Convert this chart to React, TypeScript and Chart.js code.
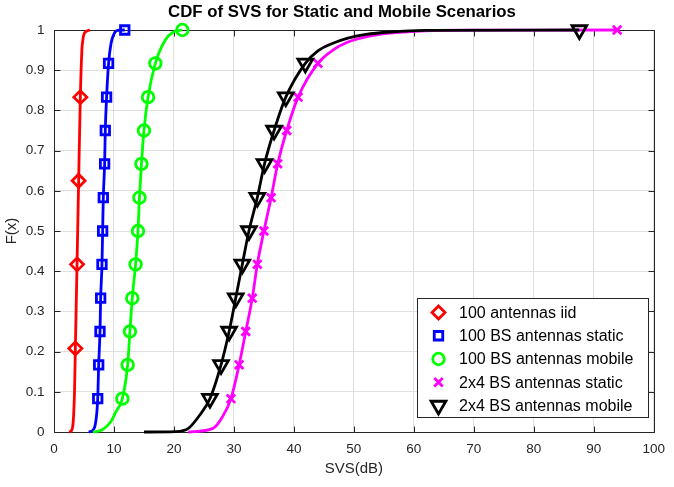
import React, { useEffect, useRef } from 'react';
import { Chart, registerables } from 'chart.js';
import { drawPoint } from 'chart.js/helpers';

Chart.register(...registerables);

const TITLE = 'CDF of SVS for Static and Mobile Scenarios';
const X_LABEL = 'SVS(dB)';
const Y_LABEL = 'F(x)';
const X_MIN = 0;
const X_MAX = 100;
const X_STEP = 10;
const Y_MIN = 0;
const Y_MAX = 1;
const Y_STEP = 0.1;

const SERIES_LABELS = [
  '100 antennas iid',
  '100 BS antennas static',
  '100 BS antennas mobile',
  '2x4 BS antennas static',
  '2x4 BS antennas mobile',
];

// 100 antennas iid (red)
const iidLineX = [2.5, 2.9, 3.15, 3.3, 3.42, 3.56, 3.84, 4.11, 4.39, 4.65, 4.8, 5.1, 6.0];
const iidLineY = [0, 0.003, 0.017, 0.05, 0.1, 0.208, 0.417, 0.625, 0.833, 0.95, 0.974, 0.993, 1];
const iidMarkX = [3.56, 3.84, 4.11, 4.39];
const iidMarkY = [0.208, 0.417, 0.625, 0.833];

// 100 BS antennas static (blue)
const bsStaticLineX = [5.8, 6.5, 6.9, 7.29, 7.45, 7.67, 7.78, 8.0, 8.11, 8.22, 8.44, 8.55, 8.77, 9.1, 9.5, 10.0, 10.6, 11.8];
const bsStaticLineY = [0, 0.005, 0.02, 0.083, 0.167, 0.25, 0.333, 0.417, 0.5, 0.583, 0.667, 0.75, 0.833, 0.917, 0.966, 0.99, 0.999, 1];
const bsStaticMarkX = [7.29, 7.45, 7.67, 7.78, 8.0, 8.11, 8.22, 8.44, 8.55, 8.77, 9.1, 11.8];
const bsStaticMarkY = [0.083, 0.167, 0.25, 0.333, 0.417, 0.5, 0.583, 0.667, 0.75, 0.833, 0.917, 1];

// 100 BS antennas mobile (green)
const bsMobileLineX = [6.5, 8.0, 9.5, 10.3, 11.4, 12.28, 12.66, 13.05, 13.6, 14.0, 14.25, 14.58, 15.0, 15.68, 16.9, 18.5, 19.9, 21.4];
const bsMobileLineY = [0, 0.005, 0.026, 0.05, 0.083, 0.167, 0.25, 0.333, 0.417, 0.5, 0.583, 0.667, 0.75, 0.833, 0.917, 0.974, 0.995, 1];
const bsMobileMarkX = [11.4, 12.28, 12.66, 13.05, 13.6, 14.0, 14.25, 14.58, 15.0, 15.68, 16.9, 21.4];
const bsMobileMarkY = [0.083, 0.167, 0.25, 0.333, 0.417, 0.5, 0.583, 0.667, 0.75, 0.833, 0.917, 1];

// 2x4 BS antennas static (magenta)
const smallStaticLineX = [22.4, 26.5, 28.1, 29.5, 30.87, 31.97, 33.06, 33.9, 35.0, 36.2, 37.3, 38.8, 40.7, 44.0, 46.5, 49.0, 52.0, 56.0, 61.0, 70.0, 93.9];
const smallStaticLineY = [0, 0.009, 0.038, 0.083, 0.167, 0.25, 0.333, 0.417, 0.5, 0.583, 0.667, 0.75, 0.833, 0.917, 0.95, 0.97, 0.983, 0.992, 0.997, 0.9995, 1];
const smallStaticMarkX = [29.5, 30.87, 31.97, 33.06, 33.9, 35.0, 36.2, 37.3, 38.8, 40.7, 44.0, 93.9];
const smallStaticMarkY = [0.083, 0.167, 0.25, 0.333, 0.417, 0.5, 0.583, 0.667, 0.75, 0.833, 0.917, 1];

// 2x4 BS antennas mobile (black)
const smallMobileLineX = [15.0, 20.2, 22.4, 24.3, 26.0, 27.85, 29.2, 30.3, 31.4, 32.5, 33.9, 35.1, 36.7, 38.65, 41.9, 44.0, 46.5, 49.0, 52.0, 56.0, 62.0, 87.6];
const smallMobileLineY = [0, 0.001, 0.009, 0.042, 0.083, 0.167, 0.25, 0.333, 0.417, 0.5, 0.583, 0.667, 0.75, 0.833, 0.917, 0.948, 0.967, 0.98, 0.989, 0.995, 0.999, 1];
const smallMobileMarkX = [26.0, 27.85, 29.2, 30.3, 31.4, 32.5, 33.9, 35.1, 36.7, 38.65, 41.9, 87.6];
const smallMobileMarkY = [0.083, 0.167, 0.25, 0.333, 0.417, 0.5, 0.583, 0.667, 0.75, 0.833, 0.917, 1];

const FONT = "'Liberation Sans', Arial, Helvetica, sans-serif";
const AXIS_COLOR = '#262626';
const LINE_W = 2.8;

const pts = (xs: number[], ys: number[]) => xs.map((x, i) => ({ x, y: ys[i] }));

type SeriesDef = {
  label: string;
  color: string;
  lineX: number[];
  lineY: number[];
  markX: number[];
  markY: number[];
  pointStyle: string;
  radius: number;
  rotation: number;
  order: number;
};

const SERIES: SeriesDef[] = [
  { label: SERIES_LABELS[0], color: '#ff0000', lineX: iidLineX, lineY: iidLineY, markX: iidMarkX, markY: iidMarkY, pointStyle: 'rectRot', radius: 6.5, rotation: 0, order: 50 },
  { label: SERIES_LABELS[1], color: '#0000ff', lineX: bsStaticLineX, lineY: bsStaticLineY, markX: bsStaticMarkX, markY: bsStaticMarkY, pointStyle: 'rect', radius: 6, rotation: 0, order: 40 },
  { label: SERIES_LABELS[2], color: '#00ff00', lineX: bsMobileLineX, lineY: bsMobileLineY, markX: bsMobileMarkX, markY: bsMobileMarkY, pointStyle: 'circle', radius: 5.8, rotation: 0, order: 30 },
  { label: SERIES_LABELS[3], color: '#ff00ff', lineX: smallStaticLineX, lineY: smallStaticLineY, markX: smallStaticMarkX, markY: smallStaticMarkY, pointStyle: 'crossRot', radius: 6, rotation: 0, order: 20 },
  { label: SERIES_LABELS[4], color: '#000000', lineX: smallMobileLineX, lineY: smallMobileLineY, markX: smallMobileMarkX, markY: smallMobileMarkY, pointStyle: 'triangle', radius: 8.5, rotation: 180, order: 10 },
];

const decorPlugin = {
  id: 'decor',
  beforeDatasetsDraw(chart: any) {
    const { ctx, chartArea: a, scales } = chart;
    const al = (v: number) => Math.round(v) + 0.5;
    ctx.save();
    ctx.strokeStyle = AXIS_COLOR;
    ctx.lineWidth = 1;
    const L = al(a.left), R = al(a.right), T = al(a.top), B = al(a.bottom);
    ctx.beginPath();
    ctx.rect(L, T, R - L, B - T);
    const tl = 6;
    scales.x.ticks.forEach((t: any) => {
      const px = al(scales.x.getPixelForValue(t.value));
      ctx.moveTo(px, B); ctx.lineTo(px, B - tl);
      ctx.moveTo(px, T); ctx.lineTo(px, T + tl);
    });
    scales.y.ticks.forEach((t: any) => {
      const py = al(scales.y.getPixelForValue(t.value));
      ctx.moveTo(L, py); ctx.lineTo(L + tl, py);
      ctx.moveTo(R, py); ctx.lineTo(R - tl, py);
    });
    ctx.stroke();
    ctx.restore();
  },
  afterDraw(chart: any) {
    const { ctx, chartArea: a } = chart;
    ctx.save();
    // title
    ctx.fillStyle = '#000000';
    ctx.font = `bold 16.8px ${FONT}`;
    ctx.textAlign = 'center';
    ctx.textBaseline = 'alphabetic';
    ctx.fillText(TITLE, 342, 17);
    // x label
    ctx.fillStyle = AXIS_COLOR;
    ctx.font = `15px ${FONT}`;
    ctx.fillText(X_LABEL, (a.left + a.right) / 2, 473);
    // y label
    ctx.save();
    ctx.translate(12, (a.top + a.bottom) / 2);
    ctx.rotate(-Math.PI / 2);
    ctx.textBaseline = 'middle';
    ctx.fillText(Y_LABEL, 0, 0);
    ctx.restore();

    // legend
    const bx = 417.5, by = 298.5, bw = 231, bh = 119;
    ctx.fillStyle = '#ffffff';
    ctx.fillRect(bx, by, bw, bh);
    ctx.strokeStyle = AXIS_COLOR;
    ctx.lineWidth = 1;
    ctx.strokeRect(bx, by, bw, bh);
    ctx.font = `16px ${FONT}`;
    ctx.textAlign = 'left';
    ctx.textBaseline = 'middle';
    SERIES.forEach((s, i) => {
      const cy = 312.5 + i * 23.25;
      ctx.strokeStyle = s.color;
      ctx.fillStyle = 'rgba(0,0,0,0)';
      ctx.lineWidth = LINE_W;
      drawPoint(ctx, { pointStyle: s.pointStyle as any, rotation: s.rotation, radius: s.radius, borderWidth: LINE_W }, 438.5, cy);
      ctx.fillStyle = '#000000';
      ctx.fillText(s.label, 459, cy + 1);
    });
    ctx.restore();
  },
};

export default function App() {
  const ref = useRef<HTMLCanvasElement | null>(null);
  useEffect(() => {
    document.body.style.margin = '0';
    const canvas = ref.current;
    if (!canvas) return;
    const datasets: any[] = [];
    SERIES.forEach((s) => {
      datasets.push({
        label: s.label + ' line',
        data: pts(s.lineX, s.lineY),
        showLine: true,
        borderColor: s.color,
        backgroundColor: s.color,
        borderWidth: LINE_W,
        pointRadius: 0,
        pointHoverRadius: 0,
        cubicInterpolationMode: 'monotone',
        fill: false,
        clip: false,
        order: s.order + 1,
      });
      datasets.push({
        label: s.label,
        data: pts(s.markX, s.markY),
        showLine: false,
        borderColor: s.color,
        backgroundColor: 'rgba(0,0,0,0)',
        pointStyle: s.pointStyle,
        pointRotation: s.rotation,
        pointRadius: s.radius,
        pointBorderWidth: LINE_W,
        pointHoverRadius: s.radius,
        clip: false,
        order: s.order,
      });
    });
    const chart = new Chart(canvas, {
      type: 'scatter',
      data: { datasets },
      options: {
        animation: false,
        responsive: false,
        devicePixelRatio: 1,
        events: [],
        layout: { padding: { top: 30, right: 13, left: 0, bottom: 0 } },
        plugins: { legend: { display: false }, title: { display: false }, tooltip: { enabled: false } },
        scales: {
          x: {
            type: 'linear',
            min: X_MIN,
            max: X_MAX,
            ticks: { stepSize: X_STEP, color: AXIS_COLOR, font: { family: FONT, size: 13.5 }, padding: 9, maxRotation: 0 },
            grid: { color: '#dfdfdf', drawTicks: false, lineWidth: 1 },
            border: { display: false },
            afterFit: (s: any) => { s.height = 55; },
          },
          y: {
            type: 'linear',
            min: Y_MIN,
            max: Y_MAX,
            ticks: {
              stepSize: Y_STEP,
              color: AXIS_COLOR,
              font: { family: FONT, size: 13.5 },
              padding: 9.5,
              callback: (v: any) => String(Math.round(Number(v) * 10) / 10),
            },
            grid: { color: '#dfdfdf', drawTicks: false, lineWidth: 1 },
            border: { display: false },
            afterFit: (s: any) => { s.width = 54; },
          },
        },
      } as any,
      plugins: [decorPlugin],
    });
    return () => chart.destroy();
  }, []);
  return <canvas ref={ref} width={674} height={487} style={{ display: 'block' }} />;
}
